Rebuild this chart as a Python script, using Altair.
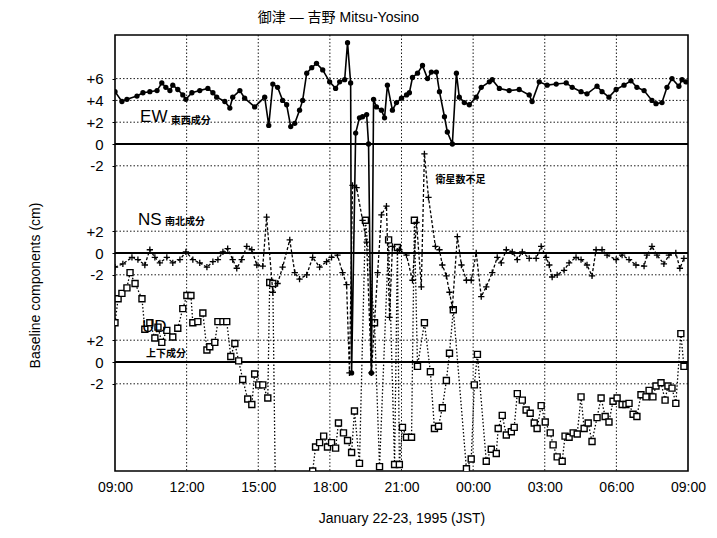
import altair as alt
import pandas as pd

# ---------------- data (hours after 09:00 JST, 22 Jan 1995; values in cm) ----------------
EW_T = [0.00, 0.29, 0.50, 0.92, 1.17, 1.46, 1.76, 1.96, 2.13, 2.30,
        2.42, 2.63, 2.84, 2.97, 3.22, 3.55, 3.89, 4.10, 4.26, 4.60,
        4.81, 4.93, 5.23, 5.43, 5.85, 6.27, 6.44, 6.61, 6.81, 7.02,
        7.19, 7.36, 7.53, 7.73, 7.86, 8.03, 8.24, 8.44, 8.70, 8.99,
        9.24, 9.41, 9.62, 9.74, 9.87, 9.91, 10.08, 10.24, 10.37, 10.54,
        10.62, 10.74, 10.83, 10.95, 11.16, 11.29, 11.41, 11.62, 11.79, 12.00,
        12.21, 12.33, 12.46, 12.67, 12.88, 13.09, 13.25, 13.46, 13.59, 13.80,
        13.92, 14.13, 14.30, 14.42, 14.63, 14.84, 15.13, 15.34, 15.68, 15.80,
        16.10, 16.51, 16.93, 17.35, 17.47, 17.77, 18.10, 18.48, 18.90, 19.15,
        19.52, 19.77, 20.19, 20.40, 20.69, 20.99, 21.32, 21.61, 21.86, 22.16,
        22.49, 22.66, 22.91, 23.12, 23.33, 23.62, 23.75, 23.91]
EW_V = [4.8, 3.9, 4.1, 4.4, 4.7, 4.8, 4.9, 5.6, 5.2, 4.9,
        5.4, 5.0, 4.5, 4.1, 4.7, 4.9, 5.1, 4.7, 4.3, 3.9,
        3.3, 4.3, 4.9, 4.2, 3.4, 4.3, 1.7, 5.5, 5.2, 4.0,
        3.6, 1.6, 1.9, 3.1, 4.0, 6.5, 7.0, 7.4, 6.8, 5.7,
        5.1, 5.7, 5.9, 9.3, 5.6, -21.0, 1.0, 2.4, 2.5, 2.7,
        0.0, -21.0, 4.1, 3.4, 3.1, 2.4, 5.4, 3.1, 3.8, 4.2,
        4.5, 4.7, 6.1, 6.5, 7.2, 6.0, 6.6, 6.6, 4.8, 2.5,
        1.1, 0.0, 6.5, 4.3, 3.8, 3.6, 4.3, 5.2, 5.7, 5.9,
        5.1, 4.9, 5.0, 4.5, 3.9, 5.7, 5.4, 5.5, 5.6, 5.2,
        4.8, 4.6, 5.3, 4.8, 4.3, 5.0, 5.4, 5.8, 5.2, 4.9,
        4.0, 3.7, 3.8, 5.2, 6.0, 5.3, 5.9, 5.7]

NS_T = [0.00, 0.33, 0.71, 0.96, 1.25, 1.46, 1.67, 1.88, 2.17, 2.42,
        2.72, 2.97, 3.26, 3.55, 3.85, 4.10, 4.31, 4.52, 4.72, 4.93,
        5.10, 5.31, 5.52, 5.73, 5.94, 6.19, 6.35, 6.61, 6.81, 7.02,
        7.32, 7.53, 7.73, 8.03, 8.28, 8.57, 8.86, 9.07, 9.32, 9.53,
        9.70, 9.82, 9.95, 10.12, 10.37, 10.54, 10.74, 11.00, 11.16, 11.37,
        11.50, 11.62, 11.91, 12.21, 12.46, 12.63, 12.83, 12.96, 13.13, 13.42,
        13.59, 13.71, 13.88, 14.01, 14.13, 14.34, 14.51, 14.72, 14.92, 15.13,
        15.34, 15.55, 15.80, 16.01, 16.18, 16.39, 16.64, 16.85, 17.06, 17.35,
        17.64, 17.85, 18.06, 18.19, 18.31, 18.52, 18.81, 19.02, 19.31, 19.52,
        19.77, 19.98, 20.15, 20.40, 20.61, 20.99, 21.24, 21.53, 21.82, 22.16,
        22.28, 22.49, 22.70, 22.99, 23.20, 23.49, 23.66, 23.83]
NS_V = [-1.3, -1.0, -0.4, -0.6, -1.1, 0.3, -0.4, -0.9, -0.4, -0.9,
        -0.6, 0.1, -0.6, -0.9, -1.3, -0.8, -0.6, 0.1, 0.4, -0.6,
        -1.4, -0.6, 0.6, 0.3, -1.1, -1.2, 3.3, -3.6, -2.8, -1.3,
        1.2, -1.8, -2.4, -2.0, -0.4, -1.3, -0.8, -0.4, -0.2, -1.8,
        -2.9, -11.0, 6.2, 6.0, 3.0, 1.0, -11.0, -1.8, 3.5, 4.3,
        -5.9, 0.6, 0.3, -0.2, -2.5, 2.8, -3.1, 9.1, 5.1, 0.6,
        0.3, -1.1, -2.1, -3.6, -5.0, 1.5, -1.1, -2.5, -2.5, 0.0,
        -4.0, -3.1, -1.8, -0.4, -0.9, 0.3, 0.1, -0.6, 0.1, -0.5,
        -0.5, 0.6, -0.4, -1.1, -2.2, -2.0, -1.6, -0.9, -0.4, -0.6,
        -1.1, -2.1, 0.3, 0.3, -0.2, -0.6, -0.2, -0.6, -1.1, -1.2,
        -0.2, 0.6, -0.2, -1.0, -0.2, 0.0, -1.4, -0.5]

UD_T = [0.00, 0.13, 0.29, 0.50, 0.63, 0.84, 1.13, 1.25, 1.46, 1.67,
        1.80, 1.96, 2.17, 2.42, 2.63, 2.84, 3.01, 3.18, 3.26, 3.47,
        3.68, 3.85, 3.97, 4.18, 4.31, 4.52, 4.68, 4.85, 5.02, 5.18,
        5.35, 5.56, 5.73, 5.85, 6.02, 6.19, 6.40, 6.48, 6.61, 6.73,
        8.28, 8.40, 8.57, 8.74, 8.90, 9.07, 9.24, 9.36, 9.57, 9.74,
        9.91, 10.03, 10.24, 10.49, 10.87, 11.08, 11.46, 11.71, 11.83, 11.91,
        12.04, 12.21, 12.42, 12.54, 12.67, 12.96, 13.21, 13.38, 13.55, 13.71,
        13.88, 14.01, 14.17, 14.72, 14.92, 15.05, 15.18, 15.55, 15.76, 15.97,
        16.05, 16.22, 16.39, 16.60, 16.72, 16.85, 17.06, 17.22, 17.39, 17.56,
        17.68, 17.85, 18.02, 18.23, 18.35, 18.52, 18.73, 18.85, 19.02, 19.19,
        19.36, 19.52, 19.65, 19.82, 19.98, 20.19, 20.36, 20.53, 20.69, 20.86,
        21.03, 21.24, 21.40, 21.53, 21.70, 21.86, 22.03, 22.24, 22.37, 22.53,
        22.66, 22.87, 23.04, 23.16, 23.33, 23.49, 23.70, 23.83]
UD_V = [3.6, 5.8, 6.3, 6.8, 8.2, 7.2, 5.8, 3.0, 3.6, 2.2,
        3.2, 1.8, 2.9, 2.3, 3.1, 4.9, 6.1, 6.1, 3.6, 3.7,
        4.5, 1.1, 1.4, 1.8, 3.7, 3.7, 3.7, 0.5, 1.7, 0.1,
        -1.6, -3.4, -3.9, -1.1, -2.1, -2.1, -3.3, 7.3, 7.2, -14.0,
        -10.0, -7.8, -7.4, -6.8, -7.8, -7.4, -7.9, -5.6, -6.5, -7.2,
        -8.3, -4.5, -9.3, 13.0, 3.6, -9.6, 11.2, -9.4, 10.5, -9.4,
        -6.0, -6.9, -6.9, 13.0, -0.4, 3.6, -0.9, -6.1, -5.9, -4.2,
        -1.7, 0.8, 4.8, -9.8, -8.9, -2.1, 0.7, -9.1, -8.0, -8.4,
        -6.1, -4.9, -6.7, -6.4, -6.0, -2.9, -3.5, -4.4, -4.7, -5.6,
        -6.1, -4.0, -5.5, -6.5, -7.6, -8.7, -9.1, -6.8, -6.9, -6.5,
        -6.6, -3.2, -6.1, -5.6, -7.3, -5.1, -3.3, -5.0, -5.5, -3.6,
        -3.3, -3.9, -3.9, -3.8, -4.8, -5.0, -3.0, -3.2, -2.6, -3.2,
        -2.2, -1.9, -3.5, -2.2, -2.4, -3.8, 2.6, -0.4]

SERIES = ["EW", "NS", "UD"]
OFFSETS = [10, 0, -10]          # vertical stacking of the three components (cm)
TICK_VALUES = [16, 14, 12, 10, 8, 2, 0, -2, -8, -10, -12]
TICK_LABELS = ["+6", "+4", "+2", "0", "-2", "+2", "0", "-2", "+2", "0", "-2"]
HOURS = [0, 3, 6, 9, 12, 15, 18, 21, 24]

ANNOT_T = [1.05, 0.96, 1.13]
ANNOT_Y = [12.45, 3.0, -6.8]
ANNOT_TXT = ["EW", "NS", "UD"]
JP_T = [2.34, 2.09, 1.30, 13.42]
JP_Y = [12.15, 2.85, -9.25, 6.7]
JP_TXT = ["東西成分", "南北成分", "上下成分", "衛星数不足"]

# ---------------- build tables ----------------
def series_df(ts, vs, off):
    return pd.DataFrame({"t": ts, "y": [v + off for v in vs]})

ew = series_df(EW_T, EW_V, OFFSETS[0])
ns = series_df(NS_T, NS_V, OFFSETS[1])
ud = series_df(UD_T, UD_V, OFFSETS[2])

grid_y = pd.DataFrame({"y": [16, 14, 12, 8, 2, -2, -8, -12]})
zero_y = pd.DataFrame({"y": OFFSETS})
grid_x = pd.DataFrame({"t": HOURS[1:-1]})
ann = pd.DataFrame({"t": ANNOT_T, "y": ANNOT_Y, "txt": ANNOT_TXT})
jp = pd.DataFrame({"t": JP_T, "y": JP_Y, "txt": JP_TXT})

label_expr = "".join(f"datum.value == {v} ? '{l}' : " for v, l in zip(TICK_VALUES, TICK_LABELS)) + "''"
x_label_expr = "(((datum.value + 9) % 24) < 10 ? '0' : '') + ((datum.value + 9) % 24) + ':00'"

FONT = "Liberation Sans"
xscale = alt.Scale(domain=[0, 24], nice=False, zero=False)
yscale = alt.Scale(domain=[-20, 20], nice=False, zero=False)

X = alt.X("t:Q", scale=xscale, axis=alt.Axis(
    values=HOURS, labelExpr=x_label_expr, grid=False, domain=False, ticks=False,
    labelFlush=False, labelOverlap=False,
    labelFontSize=14, labelFont=FONT, labelColor="black", labelPadding=9,
    title="January 22-23, 1995 (JST)", titleFont=FONT, titleFontSize=14,
    titleFontWeight="normal", titleColor="black", titleY=47, titleBaseline="middle"))
Y = alt.Y("y:Q", scale=yscale, axis=alt.Axis(
    values=TICK_VALUES, labelExpr=label_expr, grid=False, domain=False,
    labelFlush=False, labelOverlap=False,
    ticks=True, tickSize=3, tickColor="black",
    labelFontSize=15, labelFont=FONT, labelColor="black", labelPadding=9,
    title="Baseline components (cm)", titleFont=FONT, titleFontSize=14,
    titleFontWeight="normal", titleColor="black", titleX=-80, titleY=250,
    titleAngle=270, titleAlign="center", titleBaseline="middle"))

hgrid = alt.Chart(grid_y).mark_rule(color="black", strokeWidth=0.9, strokeDash=[1.5, 2]).encode(y=Y)
vgrid = alt.Chart(grid_x).mark_rule(color="black", strokeWidth=0.9, strokeDash=[1.5, 2]).encode(x=X)
zeros = alt.Chart(zero_y).mark_rule(color="black", strokeWidth=1.8).encode(y=Y)

ud_line = alt.Chart(ud).mark_line(color="black", strokeWidth=1.3, strokeDash=[1.5, 2], clip=True).encode(x=X, y=Y)
ud_pts = alt.Chart(ud).mark_point(shape="square", filled=True, fill="white", stroke="black",
                                  strokeWidth=1.4, size=36, opacity=1, clip=True).encode(x=X, y=Y)
ns_line = alt.Chart(ns).mark_line(color="black", strokeWidth=1.3, strokeDash=[3, 2], clip=True).encode(x=X, y=Y)
ns_pts = alt.Chart(ns).mark_point(shape="M-1,0L1,0M0,-1L0,1", filled=False, stroke="black",
                                  strokeWidth=1.3, size=40, opacity=1, clip=True).encode(x=X, y=Y)
ew_line = alt.Chart(ew).mark_line(color="black", strokeWidth=1.6, clip=True).encode(x=X, y=Y)
ew_pts = alt.Chart(ew).mark_point(shape="circle", filled=True, color="black",
                                  size=28, opacity=1, clip=True).encode(x=X, y=Y)

ann_txt = alt.Chart(ann).mark_text(align="left", baseline="middle", font=FONT, fontSize=17,
                                   color="black").encode(x=X, y=Y, text="txt:N")
jp_txt = alt.Chart(jp).mark_text(align="left", baseline="middle", font="Noto Sans CJK JP",
                                 fontSize=10, fontWeight="bold", color="black").encode(x=X, y=Y, text="txt:N")

chart = alt.layer(
    hgrid, vgrid, zeros, ud_line, ud_pts, ns_line, ns_pts, ew_line, ew_pts, ann_txt, jp_txt
).properties(
    width=573, height=436,
    title=alt.TitleParams("御津 — 吉野 Mitsu-Yosino", font=f"{FONT}, Noto Sans CJK JP",
                          fontSize=14, fontWeight="normal", color="black",
                          anchor="middle", dx=-63, offset=10),
    autosize="none",
    padding={"left": 115, "top": 35, "right": 29, "bottom": 67},
    background="white",
).configure_view(stroke="black", strokeWidth=1.6)

chart.save("out.html", embed_options={"renderer": "svg", "actions": False})
